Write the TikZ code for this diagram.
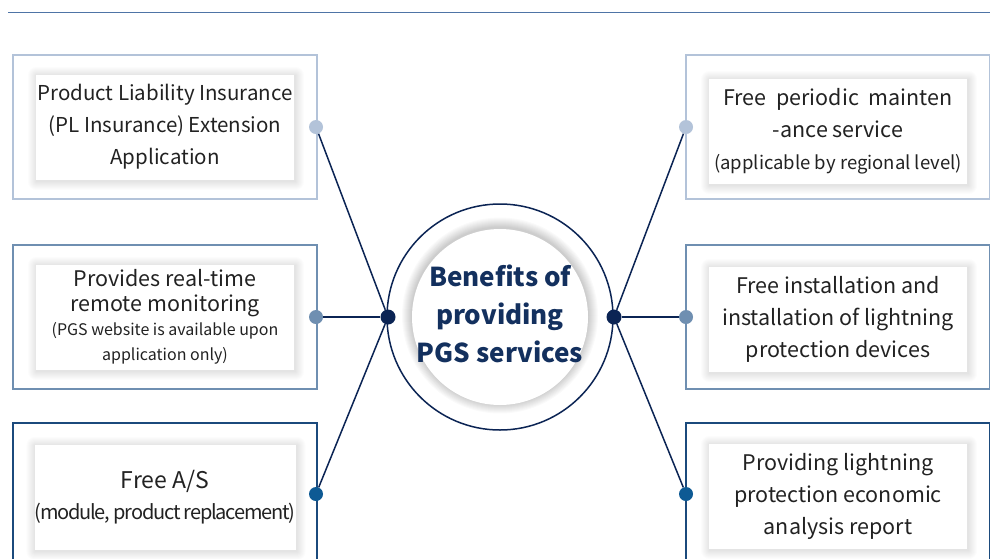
\documentclass[tikz,border=0pt]{standalone}
\usepackage{fontspec}
\setmainfont{Noto Sans CJK KR}
\definecolor{rule}{HTML}{4E74A6}
\definecolor{tonelight}{HTML}{B3C3D9}
\definecolor{tonemid}{HTML}{6F8FB1}
\definecolor{tonedark}{HTML}{1B4A7C}
\definecolor{dotdark}{HTML}{0E5A94}
\definecolor{navy}{HTML}{0B2454}
\definecolor{bodytext}{HTML}{222222}
\definecolor{titletext}{HTML}{13305E}
\newcommand{\fsz}[2]{\fontsize{#1}{#2}\selectfont}
\pgfdeclarelayer{paper}
\pgfdeclarelayer{shade}
\pgfsetlayers{paper,shade,main}
% soft haze around a rectangular card, built from faint nested fills
\newcommand{\cardshade}[1]{%
  \begin{pgfonlayer}{shade}
    \foreach \r in {1,...,9}{
      \fill[black, opacity=0.012, rounded corners=\r pt]
        ([shift={(-\r+1,\r+1.5)}]#1.south west) rectangle ([shift={(\r+1,-\r+1.5)}]#1.north east);
    }
  \end{pgfonlayer}}
\tikzset{
  outerbox/.style={draw, line width=1.5pt, minimum width=304pt, minimum height=144pt, inner sep=0pt},
  cardbox/.style={fill=white, minimum width=258pt, minimum height=105pt, inner sep=0pt,
    align=center, text=bodytext, font=\fsz{21.5}{32}},
  pin/.style={circle, inner sep=0pt, minimum size=14pt},
  hub/.style={circle, fill=navy, inner sep=0pt, minimum size=15pt},
  link/.style={navy, line width=1.5pt}
}
\begin{document}
\begin{tikzpicture}[x=1pt,y=-1pt]
\useasboundingbox (0,0) rectangle (990,558);
\clip (0,0) rectangle (990,558);
\begin{pgfonlayer}{paper}
  \fill[white] (0,0) rectangle (990,558);
\end{pgfonlayer}

% heading rule
\coordinate (ruleA) at (8,12);
\coordinate (ruleB) at (990,12);
\draw[rule, line width=1pt] (ruleA) -- (ruleB);

% left column frames
\node[outerbox, draw=tonelight] (fL1) at (165,127) {};
\node[outerbox, draw=tonemid]   (fL2) at (165,317) {};
\node[outerbox, draw=tonedark]  (fL3) at (165,495) {};
% right column frames
\node[outerbox, draw=tonelight] (fR1) at (838,127) {};
\node[outerbox, draw=tonemid]   (fR2) at (838,317) {};
\node[outerbox, draw=tonedark]  (fR3) at (838,495) {};

% left cards
\node[cardbox, font=\fsz{20.5}{32}] (cL1) at (165,127) {Product Liability Insurance\\(PL Insurance) Extension\\Application};
\node[cardbox, font=\fsz{21.5}{24.5}] (cL2) at (165,317) {Provides real-time\\remote monitoring\\{\fsz{16}{24.5}(PGS website is available upon}\\{\fsz{16}{24.5}application only)}};
\node[cardbox, font=\fsz{23}{31}] (cL3) at (165,497) {Free A/S\\{\addfontfeatures{LetterSpace=-6}\fsz{20}{31}(module, product replacement)}};

% right cards
\node[cardbox] (cR1) at (838,131) {Free\ \ periodic\ \ mainten\\-ance service\\{\fsz{18.5}{32}(applicable by regional level)}};
\node[cardbox] (cR2) at (838,319) {Free installation and\\installation of lightning\\protection devices};
\node[cardbox] (cR3) at (838,496) {Providing lightning\\protection economic\\analysis report};

\cardshade{cL1}\cardshade{cL2}\cardshade{cL3}
\cardshade{cR1}\cardshade{cR2}\cardshade{cR3}

% centre badge
\node[circle, draw=navy, line width=1.5pt, minimum size=226pt, inner sep=0pt] (ring) at (500,317) {};
\node[circle, fill=white, minimum size=176pt, inner sep=0pt] (core) at (500,317) {};
\begin{pgfonlayer}{shade}
  \foreach \r in {1,...,10}{
    \fill[black, opacity=0.018] ([yshift=1.5pt]core.center) circle ({88+\r});
  }
\end{pgfonlayer}
\node[align=center, text=titletext, font=\bfseries\fsz{26}{38}] (title) at (500,314)
  {Benefits of\\providing\\PGS services};

% hubs and pins
\node[hub] (hL) at (388,317) {};
\node[hub] (hR) at (614,317) {};
\node[pin, fill=tonelight] (pL1) at (316,127) {};
\node[pin, fill=tonemid]   (pL2) at (316,317) {};
\node[pin, fill=dotdark]   (pL3) at (316,494) {};
\node[pin, fill=tonelight] (pR1) at (686,127) {};
\node[pin, fill=tonemid]   (pR2) at (686,317) {};
\node[pin, fill=dotdark]   (pR3) at (686,494) {};

% connectors
\draw[link] (hL) -- (pL1);
\draw[link] (hL) -- (pL2);
\draw[link] (hL) -- (pL3);
\draw[link] (hR) -- (pR1);
\draw[link] (hR) -- (pR2);
\draw[link] (hR) -- (pR3);
\end{tikzpicture}
\end{document}
